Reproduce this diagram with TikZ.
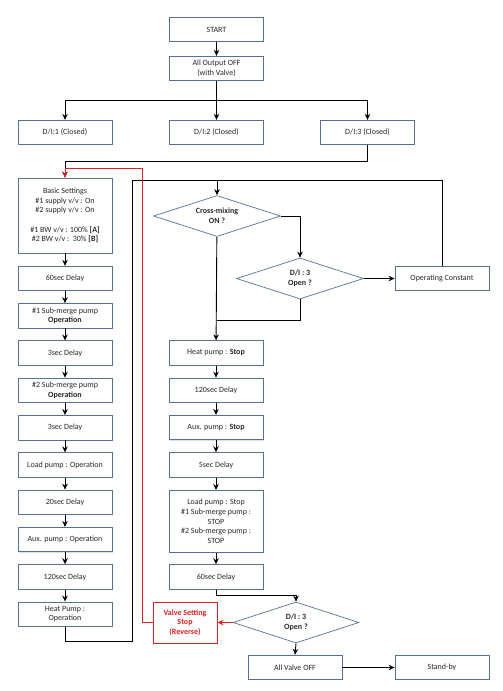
\documentclass[tikz,border=0pt]{standalone}
\usepackage{fontspec}
\setmainfont{Carlito}
\usetikzlibrary{arrows.meta,positioning,shapes.geometric,shadows}
\definecolor{boxline}{RGB}{84,114,152}
\definecolor{stopred}{RGB}{222,32,36}
\definecolor{txt}{RGB}{40,40,40}

\begin{document}
\begin{tikzpicture}[x=1pt,y=-1pt,>={Stealth[length=6pt,width=5.5pt]},line width=0.9pt,
	every node/.style={font=\fontsize{8}{9.7}\selectfont,text=txt},
	box/.style={rectangle,draw=boxline,line width=0.8pt,fill=white,align=center,
		minimum width=94pt,minimum height=24.5pt,inner sep=1pt,
		drop shadow={shadow xshift=.7pt,shadow yshift=-.7pt,fill=black!25}},
	ask/.style={diamond,draw=boxline,line width=0.7pt,fill=white,align=center,
		minimum width=127pt,minimum height=41pt,aspect=3.1,inner sep=0pt},
	redbox/.style={box,draw=stopred,text=stopred,font=\fontsize{8}{9.7}\selectfont\bfseries,
		minimum width=64pt,minimum height=41pt},
	redline/.style={draw=stopred,line width=1pt},
	node distance=37.3pt]

\useasboundingbox (0,0) rectangle (503,691);

% start and split
\node[box]	(start)	at (216.5,29.5)	{START};
\node[box]	(alloff) [below of=start,node distance=39pt]	{All Output OFF\\(with Valve)};
\node[box]	(di2)	at (216.5,132.5)	{D/I:2 (Closed)};
\node[box]	(di1)	[left of=di2,node distance=151.5pt]	{D/I:1 (Closed)};
\node[box]	(di3)	[right of=di2,node distance=151pt]	{D/I:3 (Closed)};

% left column
\node[box,minimum height=75pt]	(basic)	at (65,215.5)	{Basic Settings\\\#1 supply v/v : On\\\#2 supply v/v : On\\[9.7pt]\#1 BW v/v : 100\% \textbf{[A]}\\\#2 BW v/v :\ \ 30\% \textbf{[B]}};
\node[box]	(d60a)	at (65,278.5)	{60sec Delay};
\node[box]	(sub1)	[below of=d60a]	{\#1 Sub-merge pump\\\textbf{Operation}};
\node[box]	(d3a)	[below of=sub1]	{3sec Delay};
\node[box]	(sub2)	[below of=d3a]	{\#2 Sub-merge pump\\\textbf{Operation}};
\node[box]	(d3b)	[below of=sub2]	{3sec Delay};
\node[box]	(loadon)	[below of=d3b]	{Load pump : Operation};
\node[box]	(d20)	[below of=loadon]	{20sec Delay};
\node[box]	(auxon)	[below of=d20]	{Aux. pump : Operation};
\node[box]	(d120a)	[below of=auxon]	{120sec Delay};
\node[box]	(heaton)	[below of=d120a]	{Heat Pump :\\Operation};

% right column
\node[ask]	(cross)	at (217,216)	{\textbf{Cross-mixing}\\\textbf{ON ?}};
\node[ask]	(open1)	at (300,278.5)	{\textbf{D/I : 3}\\\textbf{Open ?}};
\node[box]	(opconst)	at (442,278.5)	{Operating Constant};
\node[box]	(heatoff)	at (216,353)	{Heat pump : \textbf{Stop}};
\node[box]	(d120b)	[below of=heatoff]	{120sec Delay};
\node[box]	(auxoff)	[below of=d120b]	{Aux. pump : \textbf{Stop}};
\node[box]	(d5)	[below of=auxoff]	{5sec Delay};
\node[box,minimum height=62pt]	(loadoff)	[below of=d5,node distance=56.5pt]	{Load pump : Stop\\\#1 Sub-merge pump :\\STOP\\\#2 Sub-merge pump :\\STOP};
\node[box]	(d60b)	[below of=loadoff,node distance=55.5pt]	{60sec Delay};
\node[ask,minimum width=126pt]	(open2)	at (296,622.5)	{\textbf{D/I : 3}\\\textbf{Open ?}};
\node[redbox]	(valve)	at (185,622.5)	{Valve Setting\\Stop\\(Reverse)};
\node[box]	(valveoff)	at (295,667.5)	{All Valve OFF};
\node[box]	(standby)	at (442,667.5)	{Stand-by};

\coordinate (split)	at (216.5,100);
\coordinate (j1)	at (65,161);
\coordinate (r1)	at (142,168);
\coordinate (loopbl)	at (132,641);
\coordinate (looptl)	at (132,180);
\coordinate (merge)	at (217,320);

% top part
\path[->]	(start)	edge	(alloff)
		(split)	edge	(di2);
\draw	(alloff)	--	(split);
\draw[->]	(split)	-|	(di1);
\draw[->]	(split)	-|	(di3);
\draw[->]	(di3.south)	|-	(j1)	--	(basic.north);

% left column
\path[->]	(basic)	edge	(d60a)
		(d60a)	edge	(sub1)
		(sub1)	edge	(d3a)
		(d3a)	edge	(sub2)
		(sub2)	edge	(d3b)
		(d3b)	edge	(loadon)
		(loadon)	edge	(d20)
		(d20)	edge	(auxon)
		(auxon)	edge	(d120a)
		(d120a)	edge	(heaton);

% loop back to the right column
\draw	(heaton.south)	|-	(loopbl)	--	(looptl)	-|	(opconst.north);
\draw[->]	(cross.north |- looptl)	--	(cross.north);
\draw[->]	(cross.east)	-|	(open1.north);
\draw[->]	(open1.east)	--	(opconst.west);
\draw	(open1.south)	|-	(merge);

% right column
\path[->]	(cross)	edge	(heatoff)
		(heatoff)	edge	(d120b)
		(d120b)	edge	(auxoff)
		(auxoff)	edge	(d5)
		(d5)	edge	(loadoff)
		(loadoff)	edge	(d60b);
\draw[->]	(d60b.south)	--	++(0,6)	-|	(open2.north);
\draw[->]	(open2.south)	--	(valveoff.north);
\draw[->]	(valveoff.east)	--	(standby.west);

% red return
\draw[redline,->]	(open2.west)	--	(valve.east);
\draw[redline,->]	(valve.west)	-|	(r1)	-|	(basic.north);
\end{tikzpicture}
\end{document}
